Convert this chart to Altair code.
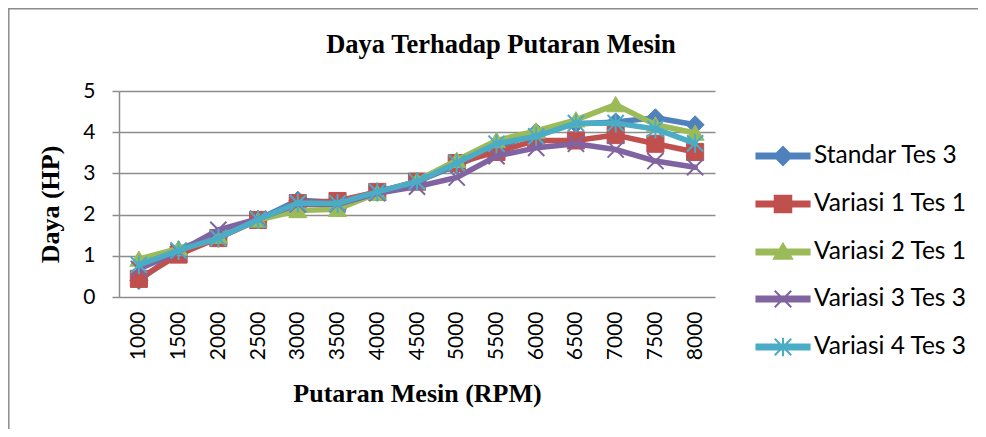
import altair as alt
import pandas as pd

rpm = ["1000", "1500", "2000", "2500", "3000", "3500", "4000", "4500",
       "5000", "5500", "6000", "6500", "7000", "7500", "8000"]
series_names = ["Standar Tes 3", "Variasi 1 Tes 1", "Variasi 2 Tes 1",
                "Variasi 3 Tes 3", "Variasi 4 Tes 3"]
standar_tes3 = [0.40, 1.10, 1.45, 1.88, 2.35, 2.30, 2.55, 2.80, 3.20, 3.60, 4.00, 4.20, 4.25, 4.35, 4.18]
variasi1_tes1 = [0.44, 1.03, 1.43, 1.87, 2.28, 2.33, 2.55, 2.80, 3.25, 3.52, 3.80, 3.80, 3.93, 3.72, 3.52]
variasi2_tes1 = [0.92, 1.18, 1.48, 1.87, 2.10, 2.13, 2.52, 2.82, 3.32, 3.80, 4.03, 4.30, 4.67, 4.18, 3.98]
variasi3_tes3 = [0.68, 1.10, 1.63, 1.90, 2.25, 2.25, 2.52, 2.68, 2.90, 3.42, 3.62, 3.72, 3.58, 3.30, 3.15]
variasi4_tes3 = [0.78, 1.13, 1.43, 1.88, 2.28, 2.27, 2.55, 2.80, 3.25, 3.72, 3.90, 4.22, 4.22, 4.08, 3.73]
all_values = [standar_tes3, variasi1_tes1, variasi2_tes1, variasi3_tes3, variasi4_tes3]

colors = ["#4F81BD", "#C0504D", "#9BBB59", "#8064A2", "#4BACC6"]

marker_paths = [
    "M0,-1L1,0L0,1L-1,0Z",
    "M-0.95,-0.95L0.95,-0.95L0.95,0.95L-0.95,0.95Z",
    "M0,-0.9L1,0.8L-1,0.8Z",
    "M-0.9,-0.9L0.9,0.9M-0.9,0.9L0.9,-0.9",
    "M-0.9,-0.9L0.9,0.9M-0.9,0.9L0.9,-0.9M0,-1.05L0,1.05",
]
marker_filled = [True, True, True, False, False]

bar = "M-1.77,-0.17L1.77,-0.17L1.77,0.17L-1.77,0.17Z "
legend_paths = [
    bar + "M0,-0.6L0.6,0L0,0.6L-0.6,0Z",
    bar + "M-0.55,-0.55L0.55,-0.55L0.55,0.55L-0.55,0.55Z",
    bar + "M0,-0.55L0.6,0.45L-0.6,0.45Z",
    bar + "M-0.55,-0.55L0.55,0.55M-0.55,0.55L0.55,-0.55",
    bar + "M-0.55,-0.55L0.55,0.55M-0.55,0.55L0.55,-0.55M0,-0.62L0,0.62",
]

rows = []
for name, vals in zip(series_names, all_values):
    for r, v in zip(rpm, vals):
        rows.append({"rpm": r, "daya": v, "series": name, "legend_series": name})
df = pd.DataFrame(rows)

x_enc = alt.X(
    "rpm:O", sort=rpm,
    scale=alt.Scale(type="point", padding=0.5),
    axis=alt.Axis(title="Putaran Mesin (RPM)", labelAngle=270, ticks=False, domain=False,
                  grid=False, labelPadding=14, titleY=96, titleBaseline="middle"),
)
y_enc = alt.Y(
    "daya:Q",
    scale=alt.Scale(domain=[0, 5], nice=False),
    axis=alt.Axis(title="Daya (HP)", values=[0, 1, 2, 3, 4, 5], tickSize=7, labelPadding=17,
                  titleFontSize=26, titleX=-69, titleY=113, titleAngle=270,
                  titleBaseline="middle", titleAlign="center", grid=True),
)

base = alt.Chart(df)
layers = []
for name, c, p, f in zip(series_names, colors, marker_paths, marker_filled):
    sub = base.transform_filter(alt.datum.series == name)
    layers.append(sub.mark_line(color=c, strokeWidth=5.5, strokeJoin="round", strokeCap="round")
                  .encode(x=x_enc, y=y_enc))
    if f:
        pt = sub.mark_point(shape=p, size=324, filled=True, fill=c, stroke=c,
                            strokeWidth=1, opacity=1)
    else:
        pt = sub.mark_point(shape=p, size=324, filled=False, stroke=c,
                            strokeWidth=2, opacity=1)
    layers.append(pt.encode(x=x_enc, y=y_enc))

leg = alt.Legend(title=None, orient="none", legendX=648, legendY=49, padding=0,
                 symbolSize=900, symbolStrokeWidth=2, symbolOpacity=1,
                 labelFont="Lato", labelFontSize=24.5, labelColor="black",
                 labelOffset=15, rowPadding=19, labelLimit=300)
legend_layer = base.mark_point(opacity=0, filled=True, size=900, strokeWidth=2).encode(
    x=x_enc, y=y_enc,
    fill=alt.Fill("legend_series:N", scale=alt.Scale(domain=series_names, range=colors), legend=leg),
    stroke=alt.Stroke("legend_series:N", scale=alt.Scale(domain=series_names, range=colors), legend=leg),
    shape=alt.Shape("legend_series:N", scale=alt.Scale(domain=series_names, range=legend_paths), legend=leg),
)
layers.append(legend_layer)

frame_df = pd.DataFrame({"k": [0]})
frame_top = alt.Chart(frame_df).mark_rule(color="#8c8c8c", strokeWidth=1.5).encode(
    x=alt.value(-111), x2=alt.value(859), y=alt.value(-82.2), y2=alt.value(-82.2))
frame_left = alt.Chart(frame_df).mark_rule(color="#8c8c8c", strokeWidth=1.5).encode(
    x=alt.value(-110.2), x2=alt.value(-110.2), y=alt.value(-83), y2=alt.value(338))
layers += [frame_top, frame_left]

chart = alt.layer(*layers).properties(
    width=596, height=206,
    autosize=alt.AutoSizeParams(type="none"),
    padding={"left": 111, "top": 83, "right": 263, "bottom": 132},
    title=alt.TitleParams("Daya Terhadap Putaran Mesin", anchor="middle", frame="group", dx=84,
                          baseline="alphabetic", offset=-72),
).configure_view(stroke=None).configure_axis(
    labelFont="Lato", labelFontSize=21, labelColor="black",
    titleFont="Liberation Serif", titleFontWeight="bold", titleFontSize=26, titleColor="black",
    gridColor="#8c8c8c", gridWidth=1.5, domainColor="#8c8c8c", domainWidth=1.5,
    tickColor="#8c8c8c", tickWidth=1.5,
).configure_title(
    font="Liberation Serif", fontWeight="bold", fontSize=26.5, color="black",
)

chart.save("out.html", embed_options={"renderer": "svg", "actions": False})
